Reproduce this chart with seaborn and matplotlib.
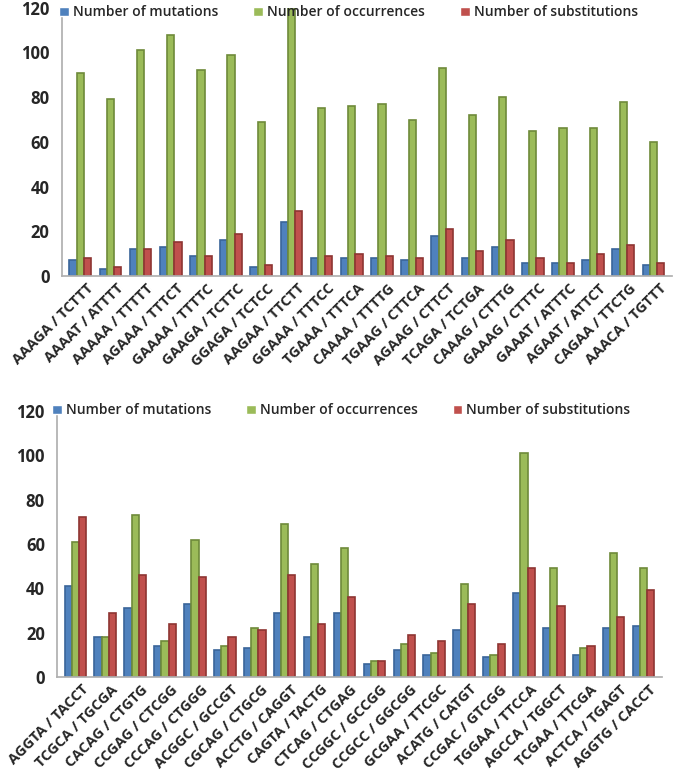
import numpy as np
import pandas as pd
import matplotlib.pyplot as plt
import matplotlib.transforms as mtransforms
import seaborn as sns

# top panel
top_motifs = ['AAAGA / TCTTT', 'AAAAT / ATTTT', 'AAAAA / TTTTT', 'AGAAA / TTTCT',
              'GAAAA / TTTTC', 'GAAGA / TCTTC', 'GGAGA / TCTCC', 'AAGAA / TTCTT',
              'GGAAA / TTTCC', 'TGAAA / TTTCA', 'CAAAA / TTTTG', 'TGAAG / CTTCA',
              'AGAAG / CTTCT', 'TCAGA / TCTGA', 'CAAAG / CTTTG', 'GAAAG / CTTTC',
              'GAAAT / ATTTC', 'AGAAT / ATTCT', 'CAGAA / TTCTG', 'AAACA / TGTTT']
top_mutations = [7, 3, 12, 13, 9, 16, 4, 24, 8, 8, 8, 7, 18, 8, 13, 6, 6, 7, 12, 5]
top_occurrences = [91, 79, 101, 108, 92, 99, 69, 121, 75, 76, 77, 70, 93, 72, 80, 65, 66, 66, 78, 60]
top_substitutions = [8, 4, 12, 15, 9, 19, 5, 29, 9, 10, 9, 8, 21, 11, 16, 8, 6, 10, 14, 6]

# bottom panel
bot_motifs = ['AGGTA / TACCT', 'TCGCA / TGCGA', 'CACAG / CTGTG', 'CCGAG / CTCGG',
              'CCCAG / CTGGG', 'ACGGC / GCCGT', 'CGCAG / CTGCG', 'ACCTG / CAGGT',
              'CAGTA / TACTG', 'CTCAG / CTGAG', 'CCGGC / GCCGG', 'CCGCC / GGCGG',
              'GCGAA / TTCGC', 'ACATG / CATGT', 'CCGAC / GTCGG', 'TGGAA / TTCCA',
              'AGCCA / TGGCT', 'TCGAA / TTCGA', 'ACTCA / TGAGT', 'AGGTG / CACCT']
bot_mutations = [41, 18, 31, 14, 33, 12, 13, 29, 18, 29, 6, 12, 10, 21, 9, 38, 22, 10, 22, 23]
bot_occurrences = [61, 18, 73, 16, 62, 14, 22, 69, 51, 58, 7, 15, 11, 42, 10, 101, 49, 13, 56, 49]
bot_substitutions = [72, 29, 46, 24, 45, 18, 21, 46, 24, 36, 7, 19, 16, 33, 15, 49, 32, 14, 27, 39]

series = ['Number of mutations', 'Number of occurrences', 'Number of substitutions']
colors = ['#4F81BD', '#9BBB59', '#C0504D']
edges = ['#3A6599', '#6E8A3A', '#8E3532']


def to_long(motifs, mut, occ, sub):
    df = pd.DataFrame({'motif': motifs, series[0]: mut, series[1]: occ, series[2]: sub})
    return df.melt(id_vars='motif', var_name='series', value_name='count')


def draw(ax, df, motifs, legend_y):
    sns.barplot(data=df, x='motif', y='count', hue='series', order=motifs,
                hue_order=series, palette=colors, width=0.72, ax=ax, saturation=1)
    for bars, ec in zip(ax.containers, edges):
        for b in bars:
            b.set_edgecolor(ec)
            b.set_linewidth(1.2)
    ax.set_ylim(0, 120)
    ax.set_xlim(-0.6, len(motifs) - 0.4)
    ax.set_yticks(range(0, 121, 20))
    ax.set_xlabel('')
    ax.set_ylabel('')
    for s in ['top', 'right']:
        ax.spines[s].set_visible(False)
    for s in ['left', 'bottom']:
        ax.spines[s].set_color('#B0B0B0')
    ax.tick_params(axis='y', length=0, labelsize=12, pad=9)
    ax.tick_params(axis='x', which='major', length=0, labelsize=10.5, pad=4)
    ax.set_xticks(np.arange(len(motifs)) + 0.5, minor=True)
    ax.tick_params(axis='x', which='minor', length=5, color='#B0B0B0')
    shift = mtransforms.ScaledTranslation(4 / 72, 0, ax.figure.dpi_scale_trans)
    for lab in ax.get_xticklabels():
        lab.set_rotation(45)
        lab.set_ha('right')
        lab.set_rotation_mode('anchor')
        lab.set_fontweight('bold')
        lab.set_transform(lab.get_transform() + shift)
    plt.setp(ax.get_yticklabels(), fontweight='bold')
    ax.legend(loc='upper center', bbox_to_anchor=(0.47, legend_y), ncol=3, frameon=False,
              prop={'size': 10, 'weight': 'semibold'}, handlelength=0.7,
              handleheight=0.7, columnspacing=2.5, handletextpad=0.3)


sns.set_theme(style='white')
plt.rcParams['font.family'] = ['Open Sans', 'DejaVu Sans']

fig = plt.figure(figsize=(6.75, 7.71), dpi=100)
ax1 = fig.add_axes([0.092, 0.642, 0.903, 0.348])
ax2 = fig.add_axes([0.085, 0.122, 0.895, 0.345])

draw(ax1, to_long(top_motifs, top_mutations, top_occurrences, top_substitutions), top_motifs, 1.055)
draw(ax2, to_long(bot_motifs, bot_mutations, bot_occurrences, bot_substitutions), bot_motifs, 1.075)

fig.savefig('out.png', dpi=100)
